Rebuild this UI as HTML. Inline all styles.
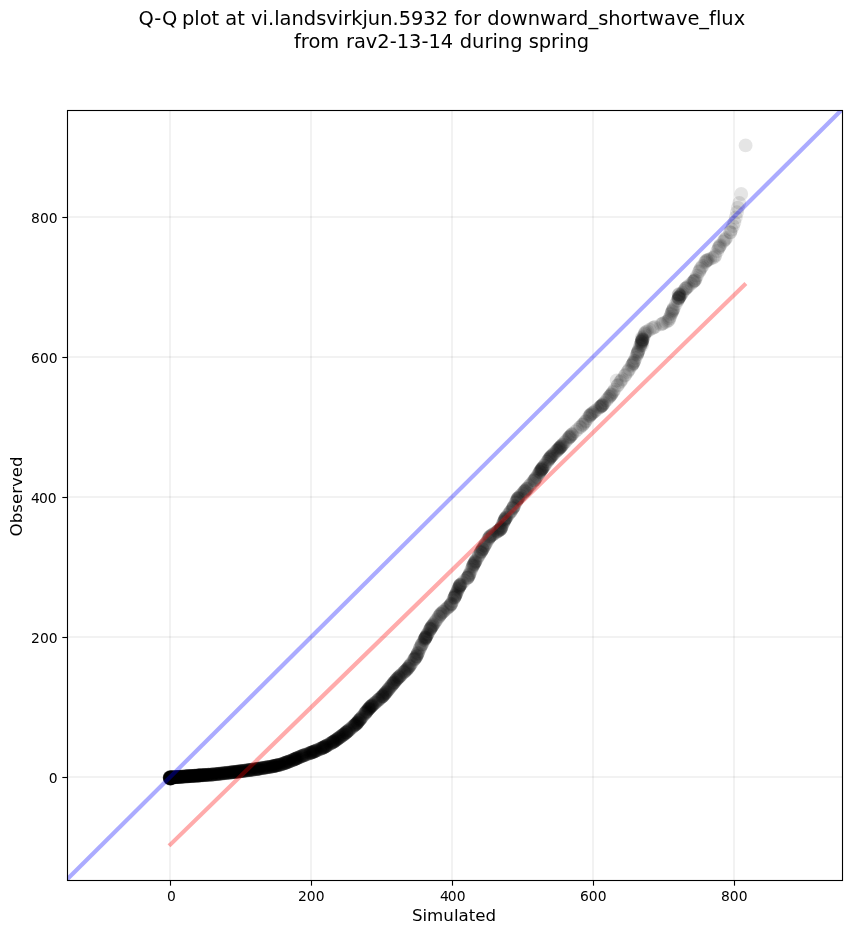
<!DOCTYPE html>
<html lang="en"><head><meta charset="utf-8"><title>Q-Q plot</title>
<style>html,body{margin:0;padding:0;background:#fff;overflow:hidden;}svg{display:block;}text{font-family:"DejaVu Sans","Liberation Sans",sans-serif;fill:#000;font-variant-ligatures:none;}</style>
</head><body>
<svg width="851" height="934" viewBox="0 0 851 934">
<rect x="0" y="0" width="851" height="934" fill="#fff"/>
<defs><clipPath id="ax"><rect x="67.5" y="110.5" width="775.0" height="770.0"/></clipPath></defs>
<g stroke="#000" stroke-opacity="0.05" stroke-width="2.08" fill="none">
<line x1="170.0" y1="110.5" x2="170.0" y2="880.5"/>
<line x1="311.0" y1="110.5" x2="311.0" y2="880.5"/>
<line x1="452.0" y1="110.5" x2="452.0" y2="880.5"/>
<line x1="593.0" y1="110.5" x2="593.0" y2="880.5"/>
<line x1="734.0" y1="110.5" x2="734.0" y2="880.5"/>
<line x1="67.5" y1="777.0" x2="842.5" y2="777.0"/>
<line x1="67.5" y1="637.0" x2="842.5" y2="637.0"/>
<line x1="67.5" y1="497.0" x2="842.5" y2="497.0"/>
<line x1="67.5" y1="357.0" x2="842.5" y2="357.0"/>
<line x1="67.5" y1="217.0" x2="842.5" y2="217.0"/>
</g>
<g clip-path="url(#ax)" fill="#000" fill-opacity="0.1">
<circle cx="170.2" cy="777.5" r="6.94"/>
<circle cx="170.1" cy="778.6" r="6.94"/>
<circle cx="170.3" cy="778.4" r="6.94"/>
<circle cx="170.0" cy="777.9" r="6.94"/>
<circle cx="170.5" cy="778.4" r="6.94"/>
<circle cx="169.7" cy="777.9" r="6.94"/>
<circle cx="170.9" cy="778.7" r="6.94"/>
<circle cx="169.7" cy="777.5" r="6.94"/>
<circle cx="171.0" cy="777.5" r="6.94"/>
<circle cx="171.1" cy="777.3" r="6.94"/>
<circle cx="170.6" cy="777.5" r="6.94"/>
<circle cx="170.3" cy="778.3" r="6.94"/>
<circle cx="170.4" cy="778.4" r="6.94"/>
<circle cx="169.7" cy="777.8" r="6.94"/>
<circle cx="171.1" cy="778.1" r="6.94"/>
<circle cx="171.2" cy="778.0" r="6.94"/>
<circle cx="170.3" cy="777.7" r="6.94"/>
<circle cx="170.2" cy="778.3" r="6.94"/>
<circle cx="169.7" cy="777.6" r="6.94"/>
<circle cx="170.2" cy="777.8" r="6.94"/>
<circle cx="170.9" cy="777.5" r="6.94"/>
<circle cx="169.9" cy="777.3" r="6.94"/>
<circle cx="170.7" cy="777.6" r="6.94"/>
<circle cx="170.7" cy="778.4" r="6.94"/>
<circle cx="171.1" cy="778.4" r="6.94"/>
<circle cx="169.9" cy="777.3" r="6.94"/>
<circle cx="169.9" cy="777.5" r="6.94"/>
<circle cx="171.2" cy="778.6" r="6.94"/>
<circle cx="169.8" cy="778.5" r="6.94"/>
<circle cx="171.0" cy="778.5" r="6.94"/>
<circle cx="170.3" cy="778.4" r="6.94"/>
<circle cx="169.8" cy="778.1" r="6.94"/>
<circle cx="170.8" cy="778.3" r="6.94"/>
<circle cx="170.8" cy="778.2" r="6.94"/>
<circle cx="169.7" cy="777.3" r="6.94"/>
<circle cx="170.3" cy="777.4" r="6.94"/>
<circle cx="169.9" cy="778.6" r="6.94"/>
<circle cx="169.9" cy="777.2" r="6.94"/>
<circle cx="169.8" cy="778.6" r="6.94"/>
<circle cx="170.0" cy="778.1" r="6.94"/>
<circle cx="170.7" cy="777.5" r="6.94"/>
<circle cx="170.8" cy="777.5" r="6.94"/>
<circle cx="171.0" cy="777.5" r="6.94"/>
<circle cx="171.2" cy="777.5" r="6.94"/>
<circle cx="171.3" cy="777.4" r="6.94"/>
<circle cx="171.5" cy="777.4" r="6.94"/>
<circle cx="171.6" cy="777.4" r="6.94"/>
<circle cx="171.7" cy="777.4" r="6.94"/>
<circle cx="171.9" cy="777.4" r="6.94"/>
<circle cx="172.0" cy="777.4" r="6.94"/>
<circle cx="172.2" cy="777.4" r="6.94"/>
<circle cx="172.3" cy="777.4" r="6.94"/>
<circle cx="172.4" cy="777.4" r="6.94"/>
<circle cx="172.6" cy="777.4" r="6.94"/>
<circle cx="172.9" cy="777.3" r="6.94"/>
<circle cx="173.0" cy="777.3" r="6.94"/>
<circle cx="173.1" cy="777.3" r="6.94"/>
<circle cx="173.3" cy="777.3" r="6.94"/>
<circle cx="173.7" cy="777.3" r="6.94"/>
<circle cx="173.9" cy="777.3" r="6.94"/>
<circle cx="174.1" cy="777.2" r="6.94"/>
<circle cx="174.5" cy="777.2" r="6.94"/>
<circle cx="174.7" cy="777.2" r="6.94"/>
<circle cx="175.0" cy="777.2" r="6.94"/>
<circle cx="175.1" cy="777.2" r="6.94"/>
<circle cx="175.2" cy="777.2" r="6.94"/>
<circle cx="175.4" cy="777.2" r="6.94"/>
<circle cx="175.5" cy="777.1" r="6.94"/>
<circle cx="175.8" cy="777.1" r="6.94"/>
<circle cx="175.9" cy="777.1" r="6.94"/>
<circle cx="176.1" cy="777.1" r="6.94"/>
<circle cx="176.3" cy="777.1" r="6.94"/>
<circle cx="176.5" cy="777.1" r="6.94"/>
<circle cx="176.7" cy="777.1" r="6.94"/>
<circle cx="176.8" cy="777.1" r="6.94"/>
<circle cx="176.9" cy="777.0" r="6.94"/>
<circle cx="177.1" cy="777.0" r="6.94"/>
<circle cx="177.3" cy="777.0" r="6.94"/>
<circle cx="177.5" cy="777.0" r="6.94"/>
<circle cx="177.6" cy="777.0" r="6.94"/>
<circle cx="177.8" cy="777.0" r="6.94"/>
<circle cx="178.0" cy="777.0" r="6.94"/>
<circle cx="178.2" cy="777.0" r="6.94"/>
<circle cx="178.4" cy="776.9" r="6.94"/>
<circle cx="178.7" cy="776.9" r="6.94"/>
<circle cx="178.8" cy="776.9" r="6.94"/>
<circle cx="179.0" cy="776.9" r="6.94"/>
<circle cx="179.2" cy="776.9" r="6.94"/>
<circle cx="179.5" cy="776.9" r="6.94"/>
<circle cx="179.8" cy="776.8" r="6.94"/>
<circle cx="179.9" cy="776.8" r="6.94"/>
<circle cx="180.5" cy="776.8" r="6.94"/>
<circle cx="180.6" cy="776.8" r="6.94"/>
<circle cx="180.8" cy="776.8" r="6.94"/>
<circle cx="181.0" cy="776.8" r="6.94"/>
<circle cx="181.2" cy="776.7" r="6.94"/>
<circle cx="181.4" cy="776.7" r="6.94"/>
<circle cx="181.5" cy="776.7" r="6.94"/>
<circle cx="181.7" cy="776.7" r="6.94"/>
<circle cx="182.0" cy="776.7" r="6.94"/>
<circle cx="182.2" cy="776.7" r="6.94"/>
<circle cx="182.5" cy="776.6" r="6.94"/>
<circle cx="182.7" cy="776.6" r="6.94"/>
<circle cx="183.0" cy="776.6" r="6.94"/>
<circle cx="183.2" cy="776.6" r="6.94"/>
<circle cx="183.4" cy="776.6" r="6.94"/>
<circle cx="183.6" cy="776.6" r="6.94"/>
<circle cx="183.9" cy="776.6" r="6.94"/>
<circle cx="184.3" cy="776.5" r="6.94"/>
<circle cx="184.5" cy="776.5" r="6.94"/>
<circle cx="184.8" cy="776.5" r="6.94"/>
<circle cx="184.9" cy="776.5" r="6.94"/>
<circle cx="185.2" cy="776.5" r="6.94"/>
<circle cx="185.4" cy="776.4" r="6.94"/>
<circle cx="186.0" cy="776.4" r="6.94"/>
<circle cx="186.4" cy="776.4" r="6.94"/>
<circle cx="186.5" cy="776.4" r="6.94"/>
<circle cx="186.7" cy="776.4" r="6.94"/>
<circle cx="187.0" cy="776.3" r="6.94"/>
<circle cx="187.1" cy="776.3" r="6.94"/>
<circle cx="187.3" cy="776.3" r="6.94"/>
<circle cx="187.4" cy="776.3" r="6.94"/>
<circle cx="187.6" cy="776.3" r="6.94"/>
<circle cx="187.7" cy="776.3" r="6.94"/>
<circle cx="188.0" cy="776.3" r="6.94"/>
<circle cx="188.2" cy="776.3" r="6.94"/>
<circle cx="188.3" cy="776.2" r="6.94"/>
<circle cx="188.5" cy="776.2" r="6.94"/>
<circle cx="188.9" cy="776.2" r="6.94"/>
<circle cx="189.0" cy="776.2" r="6.94"/>
<circle cx="189.2" cy="776.2" r="6.94"/>
<circle cx="189.5" cy="776.2" r="6.94"/>
<circle cx="189.8" cy="776.1" r="6.94"/>
<circle cx="190.2" cy="776.1" r="6.94"/>
<circle cx="190.5" cy="776.1" r="6.94"/>
<circle cx="190.7" cy="776.1" r="6.94"/>
<circle cx="190.9" cy="776.1" r="6.94"/>
<circle cx="191.1" cy="776.0" r="6.94"/>
<circle cx="191.5" cy="776.0" r="6.94"/>
<circle cx="192.0" cy="776.0" r="6.94"/>
<circle cx="192.1" cy="776.0" r="6.94"/>
<circle cx="192.3" cy="776.0" r="6.94"/>
<circle cx="192.4" cy="775.9" r="6.94"/>
<circle cx="192.6" cy="775.9" r="6.94"/>
<circle cx="192.8" cy="775.9" r="6.94"/>
<circle cx="193.1" cy="775.9" r="6.94"/>
<circle cx="193.2" cy="775.9" r="6.94"/>
<circle cx="193.4" cy="775.9" r="6.94"/>
<circle cx="193.6" cy="775.9" r="6.94"/>
<circle cx="193.8" cy="775.8" r="6.94"/>
<circle cx="194.0" cy="775.8" r="6.94"/>
<circle cx="194.5" cy="775.8" r="6.94"/>
<circle cx="194.8" cy="775.8" r="6.94"/>
<circle cx="195.0" cy="775.8" r="6.94"/>
<circle cx="195.3" cy="775.7" r="6.94"/>
<circle cx="195.5" cy="775.7" r="6.94"/>
<circle cx="195.7" cy="775.7" r="6.94"/>
<circle cx="196.1" cy="775.7" r="6.94"/>
<circle cx="196.4" cy="775.7" r="6.94"/>
<circle cx="196.8" cy="775.6" r="6.94"/>
<circle cx="197.1" cy="775.6" r="6.94"/>
<circle cx="197.3" cy="775.6" r="6.94"/>
<circle cx="197.5" cy="775.6" r="6.94"/>
<circle cx="197.7" cy="775.6" r="6.94"/>
<circle cx="197.9" cy="775.5" r="6.94"/>
<circle cx="198.1" cy="775.5" r="6.94"/>
<circle cx="198.2" cy="775.5" r="6.94"/>
<circle cx="198.4" cy="775.5" r="6.94"/>
<circle cx="198.6" cy="775.5" r="6.94"/>
<circle cx="198.8" cy="775.5" r="6.94"/>
<circle cx="198.9" cy="775.5" r="6.94"/>
<circle cx="199.1" cy="775.5" r="6.94"/>
<circle cx="199.2" cy="775.5" r="6.94"/>
<circle cx="199.4" cy="775.4" r="6.94"/>
<circle cx="199.6" cy="775.4" r="6.94"/>
<circle cx="199.7" cy="775.4" r="6.94"/>
<circle cx="200.1" cy="775.4" r="6.94"/>
<circle cx="200.4" cy="775.4" r="6.94"/>
<circle cx="200.5" cy="775.4" r="6.94"/>
<circle cx="200.7" cy="775.3" r="6.94"/>
<circle cx="200.9" cy="775.3" r="6.94"/>
<circle cx="201.1" cy="775.3" r="6.94"/>
<circle cx="201.3" cy="775.3" r="6.94"/>
<circle cx="201.7" cy="775.3" r="6.94"/>
<circle cx="202.3" cy="775.2" r="6.94"/>
<circle cx="202.6" cy="775.2" r="6.94"/>
<circle cx="202.8" cy="775.2" r="6.94"/>
<circle cx="203.0" cy="775.2" r="6.94"/>
<circle cx="203.1" cy="775.2" r="6.94"/>
<circle cx="203.3" cy="775.2" r="6.94"/>
<circle cx="203.5" cy="775.1" r="6.94"/>
<circle cx="203.9" cy="775.1" r="6.94"/>
<circle cx="204.0" cy="775.1" r="6.94"/>
<circle cx="204.2" cy="775.1" r="6.94"/>
<circle cx="204.7" cy="775.1" r="6.94"/>
<circle cx="204.9" cy="775.0" r="6.94"/>
<circle cx="205.1" cy="775.0" r="6.94"/>
<circle cx="205.4" cy="775.0" r="6.94"/>
<circle cx="205.5" cy="775.0" r="6.94"/>
<circle cx="205.7" cy="775.0" r="6.94"/>
<circle cx="206.4" cy="774.9" r="6.94"/>
<circle cx="206.8" cy="774.9" r="6.94"/>
<circle cx="207.1" cy="774.9" r="6.94"/>
<circle cx="207.2" cy="774.9" r="6.94"/>
<circle cx="207.5" cy="774.9" r="6.94"/>
<circle cx="207.6" cy="774.8" r="6.94"/>
<circle cx="208.0" cy="774.8" r="6.94"/>
<circle cx="208.2" cy="774.8" r="6.94"/>
<circle cx="208.6" cy="774.8" r="6.94"/>
<circle cx="208.8" cy="774.8" r="6.94"/>
<circle cx="208.9" cy="774.8" r="6.94"/>
<circle cx="209.3" cy="774.7" r="6.94"/>
<circle cx="210.0" cy="774.7" r="6.94"/>
<circle cx="210.4" cy="774.6" r="6.94"/>
<circle cx="210.7" cy="774.6" r="6.94"/>
<circle cx="211.1" cy="774.6" r="6.94"/>
<circle cx="211.4" cy="774.6" r="6.94"/>
<circle cx="211.6" cy="774.6" r="6.94"/>
<circle cx="211.9" cy="774.5" r="6.94"/>
<circle cx="212.1" cy="774.5" r="6.94"/>
<circle cx="212.2" cy="774.5" r="6.94"/>
<circle cx="212.4" cy="774.5" r="6.94"/>
<circle cx="212.6" cy="774.5" r="6.94"/>
<circle cx="212.8" cy="774.5" r="6.94"/>
<circle cx="213.1" cy="774.5" r="6.94"/>
<circle cx="213.6" cy="774.4" r="6.94"/>
<circle cx="213.9" cy="774.4" r="6.94"/>
<circle cx="214.4" cy="774.3" r="6.94"/>
<circle cx="215.1" cy="774.2" r="6.94"/>
<circle cx="215.7" cy="774.2" r="6.94"/>
<circle cx="215.9" cy="774.2" r="6.94"/>
<circle cx="216.1" cy="774.1" r="6.94"/>
<circle cx="216.3" cy="774.1" r="6.94"/>
<circle cx="216.5" cy="774.1" r="6.94"/>
<circle cx="216.7" cy="774.1" r="6.94"/>
<circle cx="217.0" cy="774.0" r="6.94"/>
<circle cx="217.4" cy="774.0" r="6.94"/>
<circle cx="217.8" cy="773.9" r="6.94"/>
<circle cx="218.0" cy="773.9" r="6.94"/>
<circle cx="218.3" cy="773.9" r="6.94"/>
<circle cx="218.7" cy="773.8" r="6.94"/>
<circle cx="218.9" cy="773.8" r="6.94"/>
<circle cx="219.2" cy="773.8" r="6.94"/>
<circle cx="219.7" cy="773.7" r="6.94"/>
<circle cx="220.0" cy="773.7" r="6.94"/>
<circle cx="220.4" cy="773.6" r="6.94"/>
<circle cx="220.6" cy="773.6" r="6.94"/>
<circle cx="220.8" cy="773.6" r="6.94"/>
<circle cx="221.2" cy="773.6" r="6.94"/>
<circle cx="221.4" cy="773.5" r="6.94"/>
<circle cx="221.8" cy="773.5" r="6.94"/>
<circle cx="222.4" cy="773.4" r="6.94"/>
<circle cx="222.7" cy="773.4" r="6.94"/>
<circle cx="222.9" cy="773.4" r="6.94"/>
<circle cx="223.5" cy="773.3" r="6.94"/>
<circle cx="223.8" cy="773.2" r="6.94"/>
<circle cx="224.0" cy="773.2" r="6.94"/>
<circle cx="224.2" cy="773.2" r="6.94"/>
<circle cx="224.4" cy="773.2" r="6.94"/>
<circle cx="224.9" cy="773.1" r="6.94"/>
<circle cx="225.3" cy="773.1" r="6.94"/>
<circle cx="225.5" cy="773.1" r="6.94"/>
<circle cx="225.8" cy="773.0" r="6.94"/>
<circle cx="226.5" cy="772.9" r="6.94"/>
<circle cx="226.9" cy="772.9" r="6.94"/>
<circle cx="227.1" cy="772.9" r="6.94"/>
<circle cx="227.4" cy="772.8" r="6.94"/>
<circle cx="227.6" cy="772.8" r="6.94"/>
<circle cx="227.7" cy="772.8" r="6.94"/>
<circle cx="228.4" cy="772.7" r="6.94"/>
<circle cx="228.7" cy="772.7" r="6.94"/>
<circle cx="229.0" cy="772.7" r="6.94"/>
<circle cx="229.6" cy="772.6" r="6.94"/>
<circle cx="229.8" cy="772.6" r="6.94"/>
<circle cx="230.3" cy="772.5" r="6.94"/>
<circle cx="230.7" cy="772.5" r="6.94"/>
<circle cx="230.9" cy="772.4" r="6.94"/>
<circle cx="231.1" cy="772.4" r="6.94"/>
<circle cx="231.4" cy="772.4" r="6.94"/>
<circle cx="231.6" cy="772.4" r="6.94"/>
<circle cx="231.9" cy="772.3" r="6.94"/>
<circle cx="232.1" cy="772.3" r="6.94"/>
<circle cx="232.4" cy="772.3" r="6.94"/>
<circle cx="232.6" cy="772.2" r="6.94"/>
<circle cx="233.1" cy="772.2" r="6.94"/>
<circle cx="233.3" cy="772.2" r="6.94"/>
<circle cx="233.5" cy="772.1" r="6.94"/>
<circle cx="233.9" cy="772.1" r="6.94"/>
<circle cx="234.4" cy="772.0" r="6.94"/>
<circle cx="234.6" cy="772.0" r="6.94"/>
<circle cx="235.2" cy="771.9" r="6.94"/>
<circle cx="235.5" cy="771.9" r="6.94"/>
<circle cx="235.8" cy="771.9" r="6.94"/>
<circle cx="236.1" cy="771.8" r="6.94"/>
<circle cx="236.2" cy="771.8" r="6.94"/>
<circle cx="236.5" cy="771.8" r="6.94"/>
<circle cx="236.7" cy="771.8" r="6.94"/>
<circle cx="236.9" cy="771.7" r="6.94"/>
<circle cx="237.3" cy="771.7" r="6.94"/>
<circle cx="237.5" cy="771.7" r="6.94"/>
<circle cx="237.8" cy="771.6" r="6.94"/>
<circle cx="238.2" cy="771.6" r="6.94"/>
<circle cx="238.5" cy="771.5" r="6.94"/>
<circle cx="238.7" cy="771.5" r="6.94"/>
<circle cx="239.0" cy="771.5" r="6.94"/>
<circle cx="239.3" cy="771.4" r="6.94"/>
<circle cx="239.8" cy="771.4" r="6.94"/>
<circle cx="240.0" cy="771.3" r="6.94"/>
<circle cx="240.2" cy="771.3" r="6.94"/>
<circle cx="240.4" cy="771.3" r="6.94"/>
<circle cx="240.7" cy="771.2" r="6.94"/>
<circle cx="241.1" cy="771.2" r="6.94"/>
<circle cx="241.4" cy="771.1" r="6.94"/>
<circle cx="241.7" cy="771.1" r="6.94"/>
<circle cx="242.1" cy="771.0" r="6.94"/>
<circle cx="242.6" cy="771.0" r="6.94"/>
<circle cx="242.9" cy="770.9" r="6.94"/>
<circle cx="243.2" cy="770.9" r="6.94"/>
<circle cx="243.5" cy="770.9" r="6.94"/>
<circle cx="243.8" cy="770.8" r="6.94"/>
<circle cx="244.2" cy="770.8" r="6.94"/>
<circle cx="244.4" cy="770.7" r="6.94"/>
<circle cx="244.7" cy="770.7" r="6.94"/>
<circle cx="245.0" cy="770.6" r="6.94"/>
<circle cx="245.6" cy="770.6" r="6.94"/>
<circle cx="246.0" cy="770.5" r="6.94"/>
<circle cx="246.4" cy="770.5" r="6.94"/>
<circle cx="247.0" cy="770.4" r="6.94"/>
<circle cx="247.3" cy="770.3" r="6.94"/>
<circle cx="247.6" cy="770.3" r="6.94"/>
<circle cx="248.2" cy="770.2" r="6.94"/>
<circle cx="248.6" cy="770.2" r="6.94"/>
<circle cx="248.8" cy="770.1" r="6.94"/>
<circle cx="249.0" cy="770.1" r="6.94"/>
<circle cx="249.3" cy="770.1" r="6.94"/>
<circle cx="249.5" cy="770.0" r="6.94"/>
<circle cx="249.7" cy="770.0" r="6.94"/>
<circle cx="249.9" cy="770.0" r="6.94"/>
<circle cx="250.3" cy="769.9" r="6.94"/>
<circle cx="250.7" cy="769.9" r="6.94"/>
<circle cx="251.2" cy="769.8" r="6.94"/>
<circle cx="251.4" cy="769.8" r="6.94"/>
<circle cx="251.8" cy="769.7" r="6.94"/>
<circle cx="252.1" cy="769.7" r="6.94"/>
<circle cx="252.3" cy="769.7" r="6.94"/>
<circle cx="252.8" cy="769.6" r="6.94"/>
<circle cx="253.5" cy="769.5" r="6.94"/>
<circle cx="253.7" cy="769.5" r="6.94"/>
<circle cx="254.4" cy="769.4" r="6.94"/>
<circle cx="254.6" cy="769.3" r="6.94"/>
<circle cx="254.9" cy="769.3" r="6.94"/>
<circle cx="255.8" cy="769.2" r="6.94"/>
<circle cx="256.2" cy="769.1" r="6.94"/>
<circle cx="256.4" cy="769.1" r="6.94"/>
<circle cx="256.7" cy="769.0" r="6.94"/>
<circle cx="257.0" cy="769.0" r="6.94"/>
<circle cx="257.2" cy="768.9" r="6.94"/>
<circle cx="257.4" cy="768.9" r="6.94"/>
<circle cx="257.7" cy="768.8" r="6.94"/>
<circle cx="258.1" cy="768.8" r="6.94"/>
<circle cx="258.2" cy="768.8" r="6.94"/>
<circle cx="258.6" cy="768.7" r="6.94"/>
<circle cx="258.8" cy="768.7" r="6.94"/>
<circle cx="259.0" cy="768.6" r="6.94"/>
<circle cx="259.3" cy="768.6" r="6.94"/>
<circle cx="259.6" cy="768.5" r="6.94"/>
<circle cx="259.9" cy="768.5" r="6.94"/>
<circle cx="260.1" cy="768.5" r="6.94"/>
<circle cx="261.0" cy="768.3" r="6.94"/>
<circle cx="261.4" cy="768.2" r="6.94"/>
<circle cx="262.1" cy="768.1" r="6.94"/>
<circle cx="262.3" cy="768.1" r="6.94"/>
<circle cx="262.6" cy="768.0" r="6.94"/>
<circle cx="262.8" cy="768.0" r="6.94"/>
<circle cx="263.2" cy="767.9" r="6.94"/>
<circle cx="263.5" cy="767.9" r="6.94"/>
<circle cx="263.7" cy="767.9" r="6.94"/>
<circle cx="264.0" cy="767.8" r="6.94"/>
<circle cx="264.6" cy="767.7" r="6.94"/>
<circle cx="265.0" cy="767.7" r="6.94"/>
<circle cx="265.3" cy="767.6" r="6.94"/>
<circle cx="265.5" cy="767.6" r="6.94"/>
<circle cx="266.0" cy="767.5" r="6.94"/>
<circle cx="266.4" cy="767.4" r="6.94"/>
<circle cx="266.8" cy="767.4" r="6.94"/>
<circle cx="267.0" cy="767.3" r="6.94"/>
<circle cx="267.2" cy="767.3" r="6.94"/>
<circle cx="267.6" cy="767.2" r="6.94"/>
<circle cx="267.9" cy="767.2" r="6.94"/>
<circle cx="268.1" cy="767.1" r="6.94"/>
<circle cx="268.7" cy="767.0" r="6.94"/>
<circle cx="269.1" cy="767.0" r="6.94"/>
<circle cx="269.6" cy="766.9" r="6.94"/>
<circle cx="269.8" cy="766.9" r="6.94"/>
<circle cx="270.3" cy="766.8" r="6.94"/>
<circle cx="270.5" cy="766.7" r="6.94"/>
<circle cx="271.0" cy="766.7" r="6.94"/>
<circle cx="271.3" cy="766.6" r="6.94"/>
<circle cx="271.6" cy="766.6" r="6.94"/>
<circle cx="271.9" cy="766.5" r="6.94"/>
<circle cx="272.6" cy="766.4" r="6.94"/>
<circle cx="272.8" cy="766.3" r="6.94"/>
<circle cx="273.0" cy="766.3" r="6.94"/>
<circle cx="273.3" cy="766.2" r="6.94"/>
<circle cx="273.6" cy="766.1" r="6.94"/>
<circle cx="273.8" cy="766.1" r="6.94"/>
<circle cx="274.0" cy="766.0" r="6.94"/>
<circle cx="274.2" cy="766.0" r="6.94"/>
<circle cx="274.5" cy="765.9" r="6.94"/>
<circle cx="274.8" cy="765.9" r="6.94"/>
<circle cx="275.0" cy="765.8" r="6.94"/>
<circle cx="275.4" cy="765.7" r="6.94"/>
<circle cx="275.7" cy="765.7" r="6.94"/>
<circle cx="276.0" cy="765.6" r="6.94"/>
<circle cx="276.2" cy="765.5" r="6.94"/>
<circle cx="276.5" cy="765.5" r="6.94"/>
<circle cx="276.7" cy="765.4" r="6.94"/>
<circle cx="277.0" cy="765.4" r="6.94"/>
<circle cx="277.2" cy="765.3" r="6.94"/>
<circle cx="277.6" cy="765.2" r="6.94"/>
<circle cx="277.9" cy="765.1" r="6.94"/>
<circle cx="278.2" cy="765.1" r="6.94"/>
<circle cx="278.5" cy="765.0" r="6.94"/>
<circle cx="279.2" cy="764.9" r="6.94"/>
<circle cx="279.4" cy="764.8" r="6.94"/>
<circle cx="279.9" cy="764.7" r="6.94"/>
<circle cx="280.1" cy="764.6" r="6.94"/>
<circle cx="280.5" cy="764.6" r="6.94"/>
<circle cx="281.0" cy="764.5" r="6.94"/>
<circle cx="281.3" cy="764.4" r="6.94"/>
<circle cx="281.6" cy="764.3" r="6.94"/>
<circle cx="282.0" cy="764.1" r="6.94"/>
<circle cx="282.8" cy="763.8" r="6.94"/>
<circle cx="283.1" cy="763.7" r="6.94"/>
<circle cx="283.6" cy="763.5" r="6.94"/>
<circle cx="284.0" cy="763.4" r="6.94"/>
<circle cx="284.4" cy="763.2" r="6.94"/>
<circle cx="284.7" cy="763.1" r="6.94"/>
<circle cx="284.9" cy="763.0" r="6.94"/>
<circle cx="285.1" cy="763.0" r="6.94"/>
<circle cx="285.4" cy="762.9" r="6.94"/>
<circle cx="285.6" cy="762.8" r="6.94"/>
<circle cx="286.0" cy="762.6" r="6.94"/>
<circle cx="286.3" cy="762.5" r="6.94"/>
<circle cx="286.5" cy="762.5" r="6.94"/>
<circle cx="286.7" cy="762.4" r="6.94"/>
<circle cx="287.2" cy="762.2" r="6.94"/>
<circle cx="287.8" cy="762.0" r="6.94"/>
<circle cx="288.1" cy="761.8" r="6.94"/>
<circle cx="288.4" cy="761.7" r="6.94"/>
<circle cx="288.7" cy="761.7" r="6.94"/>
<circle cx="288.9" cy="761.6" r="6.94"/>
<circle cx="289.2" cy="761.4" r="6.94"/>
<circle cx="289.5" cy="761.4" r="6.94"/>
<circle cx="289.8" cy="761.3" r="6.94"/>
<circle cx="290.0" cy="761.2" r="6.94"/>
<circle cx="290.8" cy="760.9" r="6.94"/>
<circle cx="291.6" cy="760.6" r="6.94"/>
<circle cx="291.9" cy="760.4" r="6.94"/>
<circle cx="292.2" cy="760.3" r="6.94"/>
<circle cx="293.0" cy="760.0" r="6.94"/>
<circle cx="293.2" cy="759.9" r="6.94"/>
<circle cx="293.5" cy="759.7" r="6.94"/>
<circle cx="293.7" cy="759.6" r="6.94"/>
<circle cx="294.0" cy="759.5" r="6.94"/>
<circle cx="294.3" cy="759.4" r="6.94"/>
<circle cx="294.6" cy="759.2" r="6.94"/>
<circle cx="294.8" cy="759.1" r="6.94"/>
<circle cx="295.2" cy="759.0" r="6.94"/>
<circle cx="295.4" cy="758.9" r="6.94"/>
<circle cx="295.6" cy="758.8" r="6.94"/>
<circle cx="295.8" cy="758.7" r="6.94"/>
<circle cx="296.1" cy="758.6" r="6.94"/>
<circle cx="296.4" cy="758.5" r="6.94"/>
<circle cx="296.5" cy="758.4" r="6.94"/>
<circle cx="296.8" cy="758.3" r="6.94"/>
<circle cx="297.1" cy="758.2" r="6.94"/>
<circle cx="297.4" cy="758.0" r="6.94"/>
<circle cx="297.8" cy="757.9" r="6.94"/>
<circle cx="298.2" cy="757.7" r="6.94"/>
<circle cx="298.6" cy="757.5" r="6.94"/>
<circle cx="299.0" cy="757.3" r="6.94"/>
<circle cx="299.6" cy="757.1" r="6.94"/>
<circle cx="299.9" cy="756.9" r="6.94"/>
<circle cx="300.2" cy="756.8" r="6.94"/>
<circle cx="301.1" cy="756.4" r="6.94"/>
<circle cx="301.3" cy="756.3" r="6.94"/>
<circle cx="301.7" cy="756.1" r="6.94"/>
<circle cx="302.1" cy="756.0" r="6.94"/>
<circle cx="302.3" cy="755.9" r="6.94"/>
<circle cx="302.7" cy="755.7" r="6.94"/>
<circle cx="303.2" cy="755.6" r="6.94"/>
<circle cx="303.5" cy="755.5" r="6.94"/>
<circle cx="303.9" cy="755.3" r="6.94"/>
<circle cx="304.3" cy="755.2" r="6.94"/>
<circle cx="304.5" cy="755.1" r="6.94"/>
<circle cx="304.9" cy="755.0" r="6.94"/>
<circle cx="305.2" cy="754.8" r="6.94"/>
<circle cx="305.8" cy="754.6" r="6.94"/>
<circle cx="306.4" cy="754.4" r="6.94"/>
<circle cx="307.2" cy="754.1" r="6.94"/>
<circle cx="307.8" cy="753.9" r="6.94"/>
<circle cx="308.7" cy="753.6" r="6.94"/>
<circle cx="309.3" cy="753.3" r="6.94"/>
<circle cx="309.8" cy="753.2" r="6.94"/>
<circle cx="310.1" cy="753.1" r="6.94"/>
<circle cx="310.3" cy="753.0" r="6.94"/>
<circle cx="310.6" cy="752.9" r="6.94"/>
<circle cx="310.9" cy="752.8" r="6.94"/>
<circle cx="311.0" cy="752.7" r="6.94"/>
<circle cx="311.5" cy="752.5" r="6.94"/>
<circle cx="311.8" cy="752.4" r="6.94"/>
<circle cx="312.1" cy="752.3" r="6.94"/>
<circle cx="312.5" cy="752.2" r="6.94"/>
<circle cx="312.8" cy="752.1" r="6.94"/>
<circle cx="313.0" cy="752.0" r="6.94"/>
<circle cx="313.2" cy="751.9" r="6.94"/>
<circle cx="313.6" cy="751.8" r="6.94"/>
<circle cx="313.9" cy="751.6" r="6.94"/>
<circle cx="314.2" cy="751.5" r="6.94"/>
<circle cx="314.5" cy="751.4" r="6.94"/>
<circle cx="314.9" cy="751.2" r="6.94"/>
<circle cx="315.0" cy="751.1" r="6.94"/>
<circle cx="315.5" cy="750.9" r="6.94"/>
<circle cx="315.8" cy="750.8" r="6.94"/>
<circle cx="316.1" cy="750.7" r="6.94"/>
<circle cx="316.4" cy="750.5" r="6.94"/>
<circle cx="317.0" cy="750.3" r="6.94"/>
<circle cx="317.4" cy="750.1" r="6.94"/>
<circle cx="318.1" cy="749.8" r="6.94"/>
<circle cx="319.5" cy="749.2" r="6.94"/>
<circle cx="320.0" cy="749.0" r="6.94"/>
<circle cx="320.4" cy="748.8" r="6.94"/>
<circle cx="320.8" cy="748.7" r="6.94"/>
<circle cx="321.2" cy="748.5" r="6.94"/>
<circle cx="321.7" cy="748.3" r="6.94"/>
<circle cx="322.1" cy="748.1" r="6.94"/>
<circle cx="322.4" cy="748.0" r="6.94"/>
<circle cx="322.6" cy="747.9" r="6.94"/>
<circle cx="322.9" cy="747.8" r="6.94"/>
<circle cx="323.1" cy="747.7" r="6.94"/>
<circle cx="323.5" cy="747.5" r="6.94"/>
<circle cx="323.7" cy="747.4" r="6.94"/>
<circle cx="324.0" cy="747.2" r="6.94"/>
<circle cx="324.2" cy="747.1" r="6.94"/>
<circle cx="324.4" cy="747.0" r="6.94"/>
<circle cx="324.6" cy="746.9" r="6.94"/>
<circle cx="325.0" cy="746.6" r="6.94"/>
<circle cx="325.3" cy="746.5" r="6.94"/>
<circle cx="325.6" cy="746.3" r="6.94"/>
<circle cx="325.9" cy="746.1" r="6.94"/>
<circle cx="326.1" cy="746.0" r="6.94"/>
<circle cx="326.4" cy="745.8" r="6.94"/>
<circle cx="326.8" cy="745.6" r="6.94"/>
<circle cx="327.1" cy="745.5" r="6.94"/>
<circle cx="327.7" cy="745.1" r="6.94"/>
<circle cx="328.1" cy="744.9" r="6.94"/>
<circle cx="329.3" cy="744.2" r="6.94"/>
<circle cx="330.2" cy="743.7" r="6.94"/>
<circle cx="330.5" cy="743.5" r="6.94"/>
<circle cx="330.8" cy="743.3" r="6.94"/>
<circle cx="331.3" cy="743.0" r="6.94"/>
<circle cx="332.1" cy="742.6" r="6.94"/>
<circle cx="332.3" cy="742.5" r="6.94"/>
<circle cx="332.5" cy="742.3" r="6.94"/>
<circle cx="332.7" cy="742.2" r="6.94"/>
<circle cx="333.3" cy="741.9" r="6.94"/>
<circle cx="333.5" cy="741.8" r="6.94"/>
<circle cx="333.7" cy="741.7" r="6.94"/>
<circle cx="333.9" cy="741.6" r="6.94"/>
<circle cx="334.1" cy="741.4" r="6.94"/>
<circle cx="334.6" cy="741.0" r="6.94"/>
<circle cx="334.8" cy="740.9" r="6.94"/>
<circle cx="335.2" cy="740.7" r="6.94"/>
<circle cx="335.4" cy="740.5" r="6.94"/>
<circle cx="335.9" cy="740.1" r="6.94"/>
<circle cx="336.2" cy="739.9" r="6.94"/>
<circle cx="336.4" cy="739.7" r="6.94"/>
<circle cx="337.0" cy="739.3" r="6.94"/>
<circle cx="337.3" cy="739.1" r="6.94"/>
<circle cx="337.6" cy="738.9" r="6.94"/>
<circle cx="337.9" cy="738.7" r="6.94"/>
<circle cx="338.3" cy="738.4" r="6.94"/>
<circle cx="338.7" cy="738.1" r="6.94"/>
<circle cx="339.1" cy="737.8" r="6.94"/>
<circle cx="339.4" cy="737.5" r="6.94"/>
<circle cx="339.8" cy="737.3" r="6.94"/>
<circle cx="340.3" cy="737.0" r="6.94"/>
<circle cx="340.9" cy="736.5" r="6.94"/>
<circle cx="341.2" cy="736.3" r="6.94"/>
<circle cx="341.7" cy="735.9" r="6.94"/>
<circle cx="342.2" cy="735.5" r="6.94"/>
<circle cx="342.4" cy="735.4" r="6.94"/>
<circle cx="343.0" cy="735.0" r="6.94"/>
<circle cx="343.3" cy="734.8" r="6.94"/>
<circle cx="343.8" cy="734.4" r="6.94"/>
<circle cx="344.0" cy="734.3" r="6.94"/>
<circle cx="344.2" cy="734.1" r="6.94"/>
<circle cx="344.4" cy="733.9" r="6.94"/>
<circle cx="345.4" cy="733.1" r="6.94"/>
<circle cx="345.7" cy="732.9" r="6.94"/>
<circle cx="345.9" cy="732.7" r="6.94"/>
<circle cx="346.1" cy="732.5" r="6.94"/>
<circle cx="346.3" cy="732.4" r="6.94"/>
<circle cx="346.5" cy="732.2" r="6.94"/>
<circle cx="346.7" cy="732.0" r="6.94"/>
<circle cx="347.1" cy="731.7" r="6.94"/>
<circle cx="347.4" cy="731.5" r="6.94"/>
<circle cx="348.1" cy="730.9" r="6.94"/>
<circle cx="348.3" cy="730.6" r="6.94"/>
<circle cx="348.6" cy="730.4" r="6.94"/>
<circle cx="349.0" cy="730.0" r="6.94"/>
<circle cx="349.4" cy="729.7" r="6.94"/>
<circle cx="349.8" cy="729.4" r="6.94"/>
<circle cx="350.9" cy="728.4" r="6.94"/>
<circle cx="351.8" cy="727.7" r="6.94"/>
<circle cx="352.4" cy="727.2" r="6.94"/>
<circle cx="352.9" cy="726.8" r="6.94"/>
<circle cx="353.5" cy="726.2" r="6.94"/>
<circle cx="354.2" cy="725.7" r="6.94"/>
<circle cx="354.5" cy="725.4" r="6.94"/>
<circle cx="354.9" cy="725.1" r="6.94"/>
<circle cx="355.0" cy="724.9" r="6.94"/>
<circle cx="355.4" cy="724.7" r="6.94"/>
<circle cx="355.7" cy="724.4" r="6.94"/>
<circle cx="356.0" cy="724.1" r="6.94"/>
<circle cx="356.3" cy="723.9" r="6.94"/>
<circle cx="356.5" cy="723.7" r="6.94"/>
<circle cx="356.6" cy="723.5" r="6.94"/>
<circle cx="357.1" cy="723.0" r="6.94"/>
<circle cx="357.2" cy="722.8" r="6.94"/>
<circle cx="357.4" cy="722.6" r="6.94"/>
<circle cx="357.6" cy="722.4" r="6.94"/>
<circle cx="357.8" cy="722.1" r="6.94"/>
<circle cx="358.1" cy="721.7" r="6.94"/>
<circle cx="358.7" cy="721.0" r="6.94"/>
<circle cx="358.9" cy="720.8" r="6.94"/>
<circle cx="359.2" cy="720.4" r="6.94"/>
<circle cx="359.4" cy="720.1" r="6.94"/>
<circle cx="359.7" cy="719.8" r="6.94"/>
<circle cx="360.0" cy="719.4" r="6.94"/>
<circle cx="360.2" cy="719.2" r="6.94"/>
<circle cx="360.5" cy="718.9" r="6.94"/>
<circle cx="360.7" cy="718.6" r="6.94"/>
<circle cx="361.4" cy="717.8" r="6.94"/>
<circle cx="361.8" cy="717.3" r="6.94"/>
<circle cx="362.1" cy="716.9" r="6.94"/>
<circle cx="362.9" cy="715.9" r="6.94"/>
<circle cx="364.5" cy="714.0" r="6.94"/>
<circle cx="365.0" cy="713.5" r="6.94"/>
<circle cx="365.2" cy="713.1" r="6.94"/>
<circle cx="365.5" cy="712.8" r="6.94"/>
<circle cx="365.8" cy="712.5" r="6.94"/>
<circle cx="366.1" cy="712.1" r="6.94"/>
<circle cx="366.3" cy="711.8" r="6.94"/>
<circle cx="366.6" cy="711.5" r="6.94"/>
<circle cx="366.8" cy="711.2" r="6.94"/>
<circle cx="367.2" cy="710.8" r="6.94"/>
<circle cx="367.7" cy="710.2" r="6.94"/>
<circle cx="368.1" cy="709.7" r="6.94"/>
<circle cx="368.3" cy="709.4" r="6.94"/>
<circle cx="368.5" cy="709.2" r="6.94"/>
<circle cx="368.8" cy="708.9" r="6.94"/>
<circle cx="369.0" cy="708.6" r="6.94"/>
<circle cx="369.2" cy="708.3" r="6.94"/>
<circle cx="369.4" cy="708.1" r="6.94"/>
<circle cx="369.6" cy="707.9" r="6.94"/>
<circle cx="370.1" cy="707.2" r="6.94"/>
<circle cx="370.3" cy="707.0" r="6.94"/>
<circle cx="370.5" cy="706.8" r="6.94"/>
<circle cx="370.9" cy="706.5" r="6.94"/>
<circle cx="371.4" cy="706.1" r="6.94"/>
<circle cx="371.6" cy="705.9" r="6.94"/>
<circle cx="371.8" cy="705.7" r="6.94"/>
<circle cx="372.1" cy="705.5" r="6.94"/>
<circle cx="372.4" cy="705.2" r="6.94"/>
<circle cx="372.7" cy="704.9" r="6.94"/>
<circle cx="373.4" cy="704.2" r="6.94"/>
<circle cx="374.1" cy="703.7" r="6.94"/>
<circle cx="374.9" cy="703.0" r="6.94"/>
<circle cx="375.2" cy="702.7" r="6.94"/>
<circle cx="375.6" cy="702.4" r="6.94"/>
<circle cx="376.3" cy="701.8" r="6.94"/>
<circle cx="377.4" cy="700.8" r="6.94"/>
<circle cx="377.9" cy="700.3" r="6.94"/>
<circle cx="378.5" cy="699.8" r="6.94"/>
<circle cx="378.8" cy="699.5" r="6.94"/>
<circle cx="379.3" cy="699.2" r="6.94"/>
<circle cx="380.1" cy="698.4" r="6.94"/>
<circle cx="380.7" cy="697.9" r="6.94"/>
<circle cx="381.3" cy="697.4" r="6.94"/>
<circle cx="382.0" cy="696.7" r="6.94"/>
<circle cx="382.3" cy="696.5" r="6.94"/>
<circle cx="382.5" cy="696.3" r="6.94"/>
<circle cx="382.7" cy="696.1" r="6.94"/>
<circle cx="383.0" cy="695.8" r="6.94"/>
<circle cx="383.4" cy="695.5" r="6.94"/>
<circle cx="383.9" cy="694.8" r="6.94"/>
<circle cx="384.2" cy="694.4" r="6.94"/>
<circle cx="384.6" cy="694.1" r="6.94"/>
<circle cx="384.9" cy="693.6" r="6.94"/>
<circle cx="385.2" cy="693.2" r="6.94"/>
<circle cx="385.6" cy="692.8" r="6.94"/>
<circle cx="385.8" cy="692.5" r="6.94"/>
<circle cx="386.3" cy="691.9" r="6.94"/>
<circle cx="386.6" cy="691.6" r="6.94"/>
<circle cx="387.4" cy="690.6" r="6.94"/>
<circle cx="387.9" cy="690.0" r="6.94"/>
<circle cx="388.3" cy="689.5" r="6.94"/>
<circle cx="388.7" cy="689.0" r="6.94"/>
<circle cx="389.2" cy="688.4" r="6.94"/>
<circle cx="389.9" cy="687.6" r="6.94"/>
<circle cx="390.6" cy="686.7" r="6.94"/>
<circle cx="391.0" cy="686.2" r="6.94"/>
<circle cx="391.5" cy="685.7" r="6.94"/>
<circle cx="392.0" cy="685.0" r="6.94"/>
<circle cx="392.6" cy="684.3" r="6.94"/>
<circle cx="393.0" cy="683.8" r="6.94"/>
<circle cx="393.3" cy="683.4" r="6.94"/>
<circle cx="393.8" cy="682.8" r="6.94"/>
<circle cx="394.0" cy="682.5" r="6.94"/>
<circle cx="394.3" cy="682.2" r="6.94"/>
<circle cx="394.7" cy="681.8" r="6.94"/>
<circle cx="395.5" cy="680.8" r="6.94"/>
<circle cx="395.8" cy="680.4" r="6.94"/>
<circle cx="396.4" cy="679.7" r="6.94"/>
<circle cx="396.7" cy="679.3" r="6.94"/>
<circle cx="396.9" cy="679.0" r="6.94"/>
<circle cx="397.2" cy="678.7" r="6.94"/>
<circle cx="398.0" cy="678.0" r="6.94"/>
<circle cx="398.5" cy="677.5" r="6.94"/>
<circle cx="398.8" cy="677.2" r="6.94"/>
<circle cx="399.1" cy="676.9" r="6.94"/>
<circle cx="399.5" cy="676.5" r="6.94"/>
<circle cx="400.1" cy="675.9" r="6.94"/>
<circle cx="400.6" cy="675.4" r="6.94"/>
<circle cx="401.1" cy="675.0" r="6.94"/>
<circle cx="401.9" cy="674.1" r="6.94"/>
<circle cx="403.5" cy="672.7" r="6.94"/>
<circle cx="404.0" cy="672.2" r="6.94"/>
<circle cx="404.4" cy="671.8" r="6.94"/>
<circle cx="404.9" cy="671.3" r="6.94"/>
<circle cx="405.4" cy="670.8" r="6.94"/>
<circle cx="405.9" cy="670.3" r="6.94"/>
<circle cx="406.3" cy="669.9" r="6.94"/>
<circle cx="406.9" cy="669.3" r="6.94"/>
<circle cx="407.5" cy="668.8" r="6.94"/>
<circle cx="407.8" cy="668.4" r="6.94"/>
<circle cx="408.0" cy="668.2" r="6.94"/>
<circle cx="408.7" cy="667.2" r="6.94"/>
<circle cx="409.0" cy="666.8" r="6.94"/>
<circle cx="409.5" cy="666.1" r="6.94"/>
<circle cx="409.8" cy="665.7" r="6.94"/>
<circle cx="410.2" cy="665.2" r="6.94"/>
<circle cx="411.0" cy="664.0" r="6.94"/>
<circle cx="411.8" cy="662.9" r="6.94"/>
<circle cx="413.7" cy="660.2" r="6.94"/>
<circle cx="414.2" cy="659.5" r="6.94"/>
<circle cx="414.5" cy="659.1" r="6.94"/>
<circle cx="414.8" cy="658.7" r="6.94"/>
<circle cx="415.2" cy="658.2" r="6.94"/>
<circle cx="415.6" cy="657.7" r="6.94"/>
<circle cx="416.2" cy="656.8" r="6.94"/>
<circle cx="416.4" cy="656.5" r="6.94"/>
<circle cx="416.6" cy="656.1" r="6.94"/>
<circle cx="416.7" cy="655.7" r="6.94"/>
<circle cx="417.3" cy="654.4" r="6.94"/>
<circle cx="417.5" cy="653.9" r="6.94"/>
<circle cx="417.8" cy="653.3" r="6.94"/>
<circle cx="418.1" cy="652.6" r="6.94"/>
<circle cx="418.7" cy="651.1" r="6.94"/>
<circle cx="419.6" cy="649.1" r="6.94"/>
<circle cx="420.0" cy="648.0" r="6.94"/>
<circle cx="420.3" cy="647.4" r="6.94"/>
<circle cx="421.1" cy="645.8" r="6.94"/>
<circle cx="421.6" cy="644.9" r="6.94"/>
<circle cx="421.8" cy="644.4" r="6.94"/>
<circle cx="422.1" cy="644.0" r="6.94"/>
<circle cx="423.2" cy="641.9" r="6.94"/>
<circle cx="424.1" cy="640.2" r="6.94"/>
<circle cx="424.4" cy="639.7" r="6.94"/>
<circle cx="424.8" cy="639.0" r="6.94"/>
<circle cx="425.0" cy="638.6" r="6.94"/>
<circle cx="425.2" cy="638.3" r="6.94"/>
<circle cx="425.4" cy="637.9" r="6.94"/>
<circle cx="425.5" cy="637.7" r="6.94"/>
<circle cx="425.7" cy="637.4" r="6.94"/>
<circle cx="425.8" cy="637.2" r="6.94"/>
<circle cx="426.0" cy="636.8" r="6.94"/>
<circle cx="426.4" cy="636.1" r="6.94"/>
<circle cx="426.6" cy="635.8" r="6.94"/>
<circle cx="427.2" cy="634.6" r="6.94"/>
<circle cx="427.5" cy="634.2" r="6.94"/>
<circle cx="427.9" cy="633.4" r="6.94"/>
<circle cx="429.1" cy="631.3" r="6.94"/>
<circle cx="429.8" cy="629.9" r="6.94"/>
<circle cx="430.1" cy="629.3" r="6.94"/>
<circle cx="430.3" cy="629.0" r="6.94"/>
<circle cx="430.6" cy="628.5" r="6.94"/>
<circle cx="430.8" cy="628.1" r="6.94"/>
<circle cx="431.3" cy="627.3" r="6.94"/>
<circle cx="431.6" cy="626.9" r="6.94"/>
<circle cx="431.9" cy="626.5" r="6.94"/>
<circle cx="432.5" cy="625.7" r="6.94"/>
<circle cx="432.7" cy="625.3" r="6.94"/>
<circle cx="433.1" cy="624.8" r="6.94"/>
<circle cx="433.8" cy="623.8" r="6.94"/>
<circle cx="434.7" cy="622.5" r="6.94"/>
<circle cx="435.4" cy="621.5" r="6.94"/>
<circle cx="436.3" cy="620.3" r="6.94"/>
<circle cx="437.1" cy="619.2" r="6.94"/>
<circle cx="438.6" cy="617.0" r="6.94"/>
<circle cx="439.0" cy="616.4" r="6.94"/>
<circle cx="439.7" cy="615.5" r="6.94"/>
<circle cx="440.4" cy="614.5" r="6.94"/>
<circle cx="440.7" cy="614.0" r="6.94"/>
<circle cx="441.1" cy="613.6" r="6.94"/>
<circle cx="442.2" cy="612.5" r="6.94"/>
<circle cx="442.9" cy="611.9" r="6.94"/>
<circle cx="443.4" cy="611.5" r="6.94"/>
<circle cx="444.7" cy="610.3" r="6.94"/>
<circle cx="446.1" cy="609.1" r="6.94"/>
<circle cx="447.2" cy="608.1" r="6.94"/>
<circle cx="447.8" cy="607.6" r="6.94"/>
<circle cx="448.7" cy="606.8" r="6.94"/>
<circle cx="449.7" cy="606.0" r="6.94"/>
<circle cx="450.2" cy="605.6" r="6.94"/>
<circle cx="450.8" cy="604.6" r="6.94"/>
<circle cx="451.0" cy="604.3" r="6.94"/>
<circle cx="451.2" cy="603.8" r="6.94"/>
<circle cx="451.5" cy="603.3" r="6.94"/>
<circle cx="452.7" cy="601.0" r="6.94"/>
<circle cx="454.0" cy="598.3" r="6.94"/>
<circle cx="454.2" cy="597.8" r="6.94"/>
<circle cx="454.5" cy="597.4" r="6.94"/>
<circle cx="454.7" cy="597.0" r="6.94"/>
<circle cx="454.9" cy="596.6" r="6.94"/>
<circle cx="455.3" cy="595.8" r="6.94"/>
<circle cx="455.4" cy="595.5" r="6.94"/>
<circle cx="455.6" cy="594.9" r="6.94"/>
<circle cx="455.9" cy="594.3" r="6.94"/>
<circle cx="456.3" cy="593.5" r="6.94"/>
<circle cx="456.7" cy="592.5" r="6.94"/>
<circle cx="457.3" cy="591.2" r="6.94"/>
<circle cx="457.9" cy="589.8" r="6.94"/>
<circle cx="458.3" cy="588.8" r="6.94"/>
<circle cx="458.6" cy="588.1" r="6.94"/>
<circle cx="459.1" cy="587.2" r="6.94"/>
<circle cx="459.2" cy="586.8" r="6.94"/>
<circle cx="459.4" cy="586.5" r="6.94"/>
<circle cx="459.7" cy="585.8" r="6.94"/>
<circle cx="459.8" cy="585.5" r="6.94"/>
<circle cx="460.0" cy="585.2" r="6.94"/>
<circle cx="460.2" cy="585.0" r="6.94"/>
<circle cx="460.6" cy="584.6" r="6.94"/>
<circle cx="461.0" cy="584.3" r="6.94"/>
<circle cx="462.4" cy="582.9" r="6.94"/>
<circle cx="464.5" cy="580.7" r="6.94"/>
<circle cx="466.9" cy="578.3" r="6.94"/>
<circle cx="467.3" cy="578.0" r="6.94"/>
<circle cx="467.7" cy="577.6" r="6.94"/>
<circle cx="468.0" cy="577.3" r="6.94"/>
<circle cx="468.3" cy="576.8" r="6.94"/>
<circle cx="468.7" cy="575.9" r="6.94"/>
<circle cx="469.0" cy="575.3" r="6.94"/>
<circle cx="469.2" cy="574.7" r="6.94"/>
<circle cx="469.6" cy="573.9" r="6.94"/>
<circle cx="470.1" cy="572.6" r="6.94"/>
<circle cx="471.2" cy="570.0" r="6.94"/>
<circle cx="472.0" cy="568.1" r="6.94"/>
<circle cx="472.6" cy="566.8" r="6.94"/>
<circle cx="472.9" cy="566.0" r="6.94"/>
<circle cx="473.1" cy="565.6" r="6.94"/>
<circle cx="473.5" cy="564.7" r="6.94"/>
<circle cx="473.7" cy="564.3" r="6.94"/>
<circle cx="474.0" cy="563.8" r="6.94"/>
<circle cx="474.3" cy="563.3" r="6.94"/>
<circle cx="474.7" cy="562.6" r="6.94"/>
<circle cx="474.9" cy="562.1" r="6.94"/>
<circle cx="475.2" cy="561.6" r="6.94"/>
<circle cx="475.6" cy="561.1" r="6.94"/>
<circle cx="475.9" cy="560.5" r="6.94"/>
<circle cx="477.1" cy="558.4" r="6.94"/>
<circle cx="478.2" cy="556.6" r="6.94"/>
<circle cx="478.8" cy="555.5" r="6.94"/>
<circle cx="479.3" cy="554.7" r="6.94"/>
<circle cx="480.4" cy="552.8" r="6.94"/>
<circle cx="480.7" cy="552.3" r="6.94"/>
<circle cx="480.9" cy="551.9" r="6.94"/>
<circle cx="481.2" cy="551.3" r="6.94"/>
<circle cx="481.5" cy="550.9" r="6.94"/>
<circle cx="482.2" cy="549.7" r="6.94"/>
<circle cx="482.4" cy="549.4" r="6.94"/>
<circle cx="482.6" cy="549.0" r="6.94"/>
<circle cx="483.0" cy="548.3" r="6.94"/>
<circle cx="483.5" cy="547.5" r="6.94"/>
<circle cx="484.3" cy="546.2" r="6.94"/>
<circle cx="484.6" cy="545.6" r="6.94"/>
<circle cx="485.1" cy="544.7" r="6.94"/>
<circle cx="485.8" cy="543.6" r="6.94"/>
<circle cx="486.5" cy="542.4" r="6.94"/>
<circle cx="487.9" cy="540.0" r="6.94"/>
<circle cx="488.3" cy="539.2" r="6.94"/>
<circle cx="489.0" cy="538.1" r="6.94"/>
<circle cx="489.2" cy="537.7" r="6.94"/>
<circle cx="489.7" cy="536.9" r="6.94"/>
<circle cx="489.9" cy="536.6" r="6.94"/>
<circle cx="490.2" cy="536.2" r="6.94"/>
<circle cx="490.9" cy="535.8" r="6.94"/>
<circle cx="491.9" cy="535.1" r="6.94"/>
<circle cx="492.4" cy="534.8" r="6.94"/>
<circle cx="493.1" cy="534.3" r="6.94"/>
<circle cx="494.5" cy="533.4" r="6.94"/>
<circle cx="495.8" cy="532.6" r="6.94"/>
<circle cx="496.9" cy="531.8" r="6.94"/>
<circle cx="497.6" cy="531.3" r="6.94"/>
<circle cx="498.1" cy="531.0" r="6.94"/>
<circle cx="498.6" cy="530.6" r="6.94"/>
<circle cx="499.2" cy="530.2" r="6.94"/>
<circle cx="499.8" cy="529.9" r="6.94"/>
<circle cx="500.2" cy="529.6" r="6.94"/>
<circle cx="500.5" cy="529.4" r="6.94"/>
<circle cx="500.7" cy="529.0" r="6.94"/>
<circle cx="501.0" cy="528.4" r="6.94"/>
<circle cx="501.1" cy="528.0" r="6.94"/>
<circle cx="501.4" cy="527.4" r="6.94"/>
<circle cx="501.6" cy="526.9" r="6.94"/>
<circle cx="502.2" cy="525.5" r="6.94"/>
<circle cx="503.1" cy="523.5" r="6.94"/>
<circle cx="503.5" cy="522.5" r="6.94"/>
<circle cx="503.9" cy="521.8" r="6.94"/>
<circle cx="504.2" cy="521.1" r="6.94"/>
<circle cx="504.5" cy="520.4" r="6.94"/>
<circle cx="504.8" cy="519.7" r="6.94"/>
<circle cx="504.9" cy="519.4" r="6.94"/>
<circle cx="505.1" cy="519.0" r="6.94"/>
<circle cx="505.5" cy="518.4" r="6.94"/>
<circle cx="505.8" cy="518.0" r="6.94"/>
<circle cx="506.1" cy="517.6" r="6.94"/>
<circle cx="506.4" cy="517.2" r="6.94"/>
<circle cx="507.7" cy="515.5" r="6.94"/>
<circle cx="508.5" cy="514.4" r="6.94"/>
<circle cx="509.7" cy="512.8" r="6.94"/>
<circle cx="510.4" cy="512.0" r="6.94"/>
<circle cx="510.8" cy="511.3" r="6.94"/>
<circle cx="511.5" cy="510.5" r="6.94"/>
<circle cx="512.6" cy="508.8" r="6.94"/>
<circle cx="512.8" cy="508.3" r="6.94"/>
<circle cx="513.0" cy="507.9" r="6.94"/>
<circle cx="513.5" cy="507.1" r="6.94"/>
<circle cx="513.8" cy="506.5" r="6.94"/>
<circle cx="514.1" cy="505.8" r="6.94"/>
<circle cx="515.6" cy="502.8" r="6.94"/>
<circle cx="516.1" cy="501.8" r="6.94"/>
<circle cx="516.7" cy="500.7" r="6.94"/>
<circle cx="516.9" cy="500.1" r="6.94"/>
<circle cx="517.4" cy="499.2" r="6.94"/>
<circle cx="517.7" cy="498.7" r="6.94"/>
<circle cx="517.9" cy="498.5" r="6.94"/>
<circle cx="518.2" cy="498.2" r="6.94"/>
<circle cx="518.6" cy="497.7" r="6.94"/>
<circle cx="519.1" cy="497.2" r="6.94"/>
<circle cx="520.2" cy="496.0" r="6.94"/>
<circle cx="520.8" cy="495.3" r="6.94"/>
<circle cx="522.5" cy="493.6" r="6.94"/>
<circle cx="523.5" cy="492.5" r="6.94"/>
<circle cx="524.3" cy="491.6" r="6.94"/>
<circle cx="524.7" cy="491.2" r="6.94"/>
<circle cx="525.1" cy="490.8" r="6.94"/>
<circle cx="525.6" cy="490.3" r="6.94"/>
<circle cx="526.4" cy="489.3" r="6.94"/>
<circle cx="526.7" cy="489.0" r="6.94"/>
<circle cx="527.1" cy="488.6" r="6.94"/>
<circle cx="527.8" cy="487.8" r="6.94"/>
<circle cx="529.3" cy="486.0" r="6.94"/>
<circle cx="530.3" cy="485.0" r="6.94"/>
<circle cx="531.3" cy="483.8" r="6.94"/>
<circle cx="532.8" cy="482.0" r="6.94"/>
<circle cx="534.0" cy="480.7" r="6.94"/>
<circle cx="534.3" cy="480.3" r="6.94"/>
<circle cx="534.6" cy="480.1" r="6.94"/>
<circle cx="535.2" cy="479.1" r="6.94"/>
<circle cx="535.4" cy="478.7" r="6.94"/>
<circle cx="536.1" cy="477.7" r="6.94"/>
<circle cx="536.7" cy="476.8" r="6.94"/>
<circle cx="538.0" cy="474.8" r="6.94"/>
<circle cx="538.7" cy="473.7" r="6.94"/>
<circle cx="539.5" cy="472.5" r="6.94"/>
<circle cx="539.8" cy="472.0" r="6.94"/>
<circle cx="540.1" cy="471.6" r="6.94"/>
<circle cx="540.6" cy="470.8" r="6.94"/>
<circle cx="541.0" cy="470.2" r="6.94"/>
<circle cx="541.2" cy="469.9" r="6.94"/>
<circle cx="541.4" cy="469.6" r="6.94"/>
<circle cx="541.7" cy="469.3" r="6.94"/>
<circle cx="542.0" cy="468.9" r="6.94"/>
<circle cx="542.2" cy="468.5" r="6.94"/>
<circle cx="542.5" cy="468.2" r="6.94"/>
<circle cx="542.7" cy="467.8" r="6.94"/>
<circle cx="543.2" cy="467.2" r="6.94"/>
<circle cx="544.1" cy="466.0" r="6.94"/>
<circle cx="544.5" cy="465.4" r="6.94"/>
<circle cx="545.5" cy="464.0" r="6.94"/>
<circle cx="547.1" cy="461.8" r="6.94"/>
<circle cx="547.6" cy="461.1" r="6.94"/>
<circle cx="548.5" cy="459.9" r="6.94"/>
<circle cx="548.8" cy="459.4" r="6.94"/>
<circle cx="549.3" cy="458.8" r="6.94"/>
<circle cx="549.7" cy="458.2" r="6.94"/>
<circle cx="550.1" cy="457.7" r="6.94"/>
<circle cx="550.4" cy="457.3" r="6.94"/>
<circle cx="550.8" cy="456.8" r="6.94"/>
<circle cx="551.2" cy="456.4" r="6.94"/>
<circle cx="551.7" cy="455.9" r="6.94"/>
<circle cx="552.3" cy="455.3" r="6.94"/>
<circle cx="552.9" cy="454.7" r="6.94"/>
<circle cx="553.9" cy="453.7" r="6.94"/>
<circle cx="554.9" cy="452.7" r="6.94"/>
<circle cx="556.3" cy="451.3" r="6.94"/>
<circle cx="557.0" cy="450.6" r="6.94"/>
<circle cx="557.4" cy="450.2" r="6.94"/>
<circle cx="558.1" cy="449.5" r="6.94"/>
<circle cx="558.7" cy="448.9" r="6.94"/>
<circle cx="559.1" cy="448.4" r="6.94"/>
<circle cx="559.4" cy="448.1" r="6.94"/>
<circle cx="559.9" cy="447.6" r="6.94"/>
<circle cx="560.2" cy="447.3" r="6.94"/>
<circle cx="560.5" cy="447.0" r="6.94"/>
<circle cx="560.9" cy="446.5" r="6.94"/>
<circle cx="561.3" cy="446.1" r="6.94"/>
<circle cx="561.9" cy="445.5" r="6.94"/>
<circle cx="562.6" cy="444.7" r="6.94"/>
<circle cx="563.1" cy="444.1" r="6.94"/>
<circle cx="564.6" cy="442.5" r="6.94"/>
<circle cx="565.7" cy="441.3" r="6.94"/>
<circle cx="567.4" cy="439.4" r="6.94"/>
<circle cx="568.6" cy="438.1" r="6.94"/>
<circle cx="569.2" cy="437.4" r="6.94"/>
<circle cx="569.6" cy="437.0" r="6.94"/>
<circle cx="570.1" cy="436.5" r="6.94"/>
<circle cx="570.5" cy="436.0" r="6.94"/>
<circle cx="571.6" cy="434.8" r="6.94"/>
<circle cx="571.9" cy="434.5" r="6.94"/>
<circle cx="572.8" cy="433.7" r="6.94"/>
<circle cx="575.4" cy="431.4" r="6.94"/>
<circle cx="577.4" cy="429.6" r="6.94"/>
<circle cx="579.9" cy="427.4" r="6.94"/>
<circle cx="580.6" cy="426.7" r="6.94"/>
<circle cx="582.5" cy="425.0" r="6.94"/>
<circle cx="583.0" cy="424.5" r="6.94"/>
<circle cx="584.2" cy="423.2" r="6.94"/>
<circle cx="585.2" cy="421.8" r="6.94"/>
<circle cx="585.8" cy="420.9" r="6.94"/>
<circle cx="587.9" cy="418.1" r="6.94"/>
<circle cx="589.4" cy="416.2" r="6.94"/>
<circle cx="589.8" cy="415.7" r="6.94"/>
<circle cx="590.2" cy="415.2" r="6.94"/>
<circle cx="590.8" cy="414.4" r="6.94"/>
<circle cx="591.3" cy="414.1" r="6.94"/>
<circle cx="592.4" cy="413.2" r="6.94"/>
<circle cx="593.0" cy="412.7" r="6.94"/>
<circle cx="594.4" cy="411.6" r="6.94"/>
<circle cx="595.5" cy="410.7" r="6.94"/>
<circle cx="597.5" cy="409.1" r="6.94"/>
<circle cx="599.7" cy="407.4" r="6.94"/>
<circle cx="600.2" cy="407.0" r="6.94"/>
<circle cx="600.7" cy="406.6" r="6.94"/>
<circle cx="601.3" cy="406.1" r="6.94"/>
<circle cx="601.7" cy="405.8" r="6.94"/>
<circle cx="602.0" cy="405.5" r="6.94"/>
<circle cx="602.4" cy="405.2" r="6.94"/>
<circle cx="602.7" cy="404.8" r="6.94"/>
<circle cx="603.7" cy="403.6" r="6.94"/>
<circle cx="604.4" cy="402.7" r="6.94"/>
<circle cx="606.5" cy="400.3" r="6.94"/>
<circle cx="607.8" cy="398.7" r="6.94"/>
<circle cx="609.2" cy="397.0" r="6.94"/>
<circle cx="609.7" cy="396.4" r="6.94"/>
<circle cx="610.4" cy="395.6" r="6.94"/>
<circle cx="611.1" cy="394.8" r="6.94"/>
<circle cx="611.5" cy="394.1" r="6.94"/>
<circle cx="612.5" cy="392.8" r="6.94"/>
<circle cx="613.3" cy="391.7" r="6.94"/>
<circle cx="614.6" cy="389.7" r="6.94"/>
<circle cx="617.4" cy="385.8" r="6.94"/>
<circle cx="618.0" cy="384.9" r="6.94"/>
<circle cx="620.1" cy="382.0" r="6.94"/>
<circle cx="621.0" cy="380.8" r="6.94"/>
<circle cx="622.2" cy="379.1" r="6.94"/>
<circle cx="624.8" cy="375.7" r="6.94"/>
<circle cx="625.4" cy="374.8" r="6.94"/>
<circle cx="627.4" cy="372.0" r="6.94"/>
<circle cx="628.3" cy="370.7" r="6.94"/>
<circle cx="629.3" cy="369.1" r="6.94"/>
<circle cx="631.5" cy="365.9" r="6.94"/>
<circle cx="632.2" cy="364.9" r="6.94"/>
<circle cx="632.6" cy="364.2" r="6.94"/>
<circle cx="633.3" cy="363.3" r="6.94"/>
<circle cx="633.5" cy="362.8" r="6.94"/>
<circle cx="634.1" cy="361.5" r="6.94"/>
<circle cx="634.5" cy="360.6" r="6.94"/>
<circle cx="635.6" cy="357.9" r="6.94"/>
<circle cx="636.9" cy="354.9" r="6.94"/>
<circle cx="637.2" cy="354.0" r="6.94"/>
<circle cx="637.6" cy="353.0" r="6.94"/>
<circle cx="637.9" cy="352.3" r="6.94"/>
<circle cx="638.1" cy="351.6" r="6.94"/>
<circle cx="638.5" cy="350.7" r="6.94"/>
<circle cx="639.0" cy="349.3" r="6.94"/>
<circle cx="640.0" cy="346.3" r="6.94"/>
<circle cx="640.5" cy="345.0" r="6.94"/>
<circle cx="640.9" cy="343.9" r="6.94"/>
<circle cx="641.4" cy="342.4" r="6.94"/>
<circle cx="641.6" cy="341.9" r="6.94"/>
<circle cx="641.8" cy="341.3" r="6.94"/>
<circle cx="642.2" cy="340.4" r="6.94"/>
<circle cx="642.4" cy="339.8" r="6.94"/>
<circle cx="642.7" cy="339.0" r="6.94"/>
<circle cx="643.5" cy="336.9" r="6.94"/>
<circle cx="644.2" cy="335.1" r="6.94"/>
<circle cx="644.6" cy="333.8" r="6.94"/>
<circle cx="645.0" cy="332.9" r="6.94"/>
<circle cx="645.8" cy="332.0" r="6.94"/>
<circle cx="647.3" cy="331.1" r="6.94"/>
<circle cx="649.6" cy="329.8" r="6.94"/>
<circle cx="652.4" cy="328.2" r="6.94"/>
<circle cx="653.8" cy="327.5" r="6.94"/>
<circle cx="655.0" cy="326.9" r="6.94"/>
<circle cx="661.1" cy="324.4" r="6.94"/>
<circle cx="662.3" cy="323.8" r="6.94"/>
<circle cx="663.4" cy="323.2" r="6.94"/>
<circle cx="665.7" cy="322.1" r="6.94"/>
<circle cx="667.7" cy="321.1" r="6.94"/>
<circle cx="668.9" cy="320.0" r="6.94"/>
<circle cx="669.5" cy="318.4" r="6.94"/>
<circle cx="670.2" cy="316.6" r="6.94"/>
<circle cx="671.1" cy="314.2" r="6.94"/>
<circle cx="671.5" cy="313.2" r="6.94"/>
<circle cx="672.0" cy="311.9" r="6.94"/>
<circle cx="672.4" cy="310.9" r="6.94"/>
<circle cx="672.8" cy="310.1" r="6.94"/>
<circle cx="673.3" cy="309.1" r="6.94"/>
<circle cx="673.8" cy="308.0" r="6.94"/>
<circle cx="675.8" cy="304.1" r="6.94"/>
<circle cx="677.3" cy="301.1" r="6.94"/>
<circle cx="677.8" cy="300.2" r="6.94"/>
<circle cx="678.6" cy="298.5" r="6.94"/>
<circle cx="678.9" cy="298.1" r="6.94"/>
<circle cx="679.2" cy="297.3" r="6.94"/>
<circle cx="679.6" cy="296.7" r="6.94"/>
<circle cx="680.0" cy="296.2" r="6.94"/>
<circle cx="680.3" cy="295.7" r="6.94"/>
<circle cx="681.4" cy="294.3" r="6.94"/>
<circle cx="682.4" cy="292.8" r="6.94"/>
<circle cx="683.8" cy="290.9" r="6.94"/>
<circle cx="685.2" cy="288.9" r="6.94"/>
<circle cx="685.7" cy="288.5" r="6.94"/>
<circle cx="686.3" cy="288.0" r="6.94"/>
<circle cx="687.2" cy="287.1" r="6.94"/>
<circle cx="688.5" cy="286.0" r="6.94"/>
<circle cx="691.2" cy="283.6" r="6.94"/>
<circle cx="693.0" cy="282.0" r="6.94"/>
<circle cx="693.6" cy="281.4" r="6.94"/>
<circle cx="694.2" cy="280.9" r="6.94"/>
<circle cx="694.8" cy="280.4" r="6.94"/>
<circle cx="695.0" cy="279.9" r="6.94"/>
<circle cx="695.9" cy="278.1" r="6.94"/>
<circle cx="697.1" cy="275.6" r="6.94"/>
<circle cx="699.0" cy="271.9" r="6.94"/>
<circle cx="699.4" cy="270.9" r="6.94"/>
<circle cx="700.4" cy="269.0" r="6.94"/>
<circle cx="701.4" cy="267.5" r="6.94"/>
<circle cx="702.6" cy="265.9" r="6.94"/>
<circle cx="705.1" cy="262.4" r="6.94"/>
<circle cx="705.9" cy="261.3" r="6.94"/>
<circle cx="706.5" cy="260.5" r="6.94"/>
<circle cx="707.3" cy="260.2" r="6.94"/>
<circle cx="708.4" cy="259.7" r="6.94"/>
<circle cx="710.3" cy="258.9" r="6.94"/>
<circle cx="712.8" cy="257.8" r="6.94"/>
<circle cx="714.6" cy="256.9" r="6.94"/>
<circle cx="715.3" cy="255.3" r="6.94"/>
<circle cx="717.3" cy="251.0" r="6.94"/>
<circle cx="718.5" cy="248.2" r="6.94"/>
<circle cx="719.0" cy="247.3" r="6.94"/>
<circle cx="719.6" cy="246.1" r="6.94"/>
<circle cx="720.4" cy="245.2" r="6.94"/>
<circle cx="723.3" cy="241.7" r="6.94"/>
<circle cx="724.5" cy="240.2" r="6.94"/>
<circle cx="725.2" cy="239.3" r="6.94"/>
<circle cx="726.3" cy="237.9" r="6.94"/>
<circle cx="730.3" cy="232.1" r="6.94"/>
<circle cx="730.2" cy="232.5" r="6.94"/>
<circle cx="731.5" cy="229.5" r="6.94"/>
<circle cx="733.0" cy="226.0" r="6.94"/>
<circle cx="734.4" cy="222.5" r="6.94"/>
<circle cx="735.8" cy="217.5" r="6.94"/>
<circle cx="737.0" cy="212.3" r="6.94"/>
<circle cx="737.9" cy="207.6" r="6.94"/>
<circle cx="739.3" cy="202.9" r="6.94"/>
<circle cx="741.2" cy="194.0" r="6.94"/>
<circle cx="745.6" cy="145.4" r="6.94"/>
<circle cx="642.0" cy="341.2" r="6.94"/>
<circle cx="641.9" cy="343.4" r="6.94"/>
<circle cx="641.8" cy="337.6" r="6.94"/>
<circle cx="641.9" cy="339.2" r="6.94"/>
<circle cx="642.6" cy="339.9" r="6.94"/>
<circle cx="642.0" cy="345.4" r="6.94"/>
<circle cx="678.9" cy="295.0" r="6.94"/>
<circle cx="678.6" cy="294.3" r="6.94"/>
<circle cx="678.6" cy="297.7" r="6.94"/>
<circle cx="679.2" cy="294.3" r="6.94"/>
<circle cx="678.6" cy="298.1" r="6.94"/>
<circle cx="616.7" cy="380.5" r="6.94"/>
</g>
<g clip-path="url(#ax)" fill="none" stroke-width="4.17" stroke-linecap="square">
<line x1="57.5" y1="888.9354838709677" x2="852.5" y2="99.06451612903226" stroke="#00f" stroke-opacity="0.33"/>
<line x1="170.5" y1="844.4" x2="744.4" y2="285.0" stroke="#f00" stroke-opacity="0.33"/>
</g>
<rect x="67.5" y="110.5" width="775.0" height="770.0" fill="none" stroke="#000" stroke-width="1.11" stroke-linejoin="miter"/>
<g stroke="#000" stroke-width="1.11">
<line x1="170.5" y1="880.5" x2="170.5" y2="885.66"/>
<line x1="311.5" y1="880.5" x2="311.5" y2="885.66"/>
<line x1="452.5" y1="880.5" x2="452.5" y2="885.66"/>
<line x1="593.5" y1="880.5" x2="593.5" y2="885.66"/>
<line x1="734.5" y1="880.5" x2="734.5" y2="885.66"/>
<line x1="67.5" y1="777.5" x2="62.34" y2="777.5"/>
<line x1="67.5" y1="637.5" x2="62.34" y2="637.5"/>
<line x1="67.5" y1="497.5" x2="62.34" y2="497.5"/>
<line x1="67.5" y1="357.5" x2="62.34" y2="357.5"/>
<line x1="67.5" y1="217.5" x2="62.34" y2="217.5"/>
</g>
<g font-size="13.89px">
<text x="171.45" y="901.1" text-anchor="middle">0</text>
<text x="311.25" y="901.1" text-anchor="middle">200</text>
<text x="440.0" y="901.1" text-anchor="start">4<tspan dx="-1">00</tspan></text>
<text x="593.25" y="901.1" text-anchor="middle">600</text>
<text x="734.25" y="901.1" text-anchor="middle">800</text>
<text x="57.6" y="782.8" text-anchor="end">0</text>
<text x="57.6" y="642.8" text-anchor="end">200</text>
<text x="31.1" y="502.8" text-anchor="start">4<tspan dx="-1">00</tspan></text>
<text x="57.6" y="362.8" text-anchor="end">600</text>
<text x="57.6" y="222.8" text-anchor="end">800</text>
</g>
<text x="454" y="920.9" font-size="16.67px" text-anchor="middle">Simulated</text>
<text transform="translate(22.3,496.4) rotate(-90)" font-size="16.67px" text-anchor="middle">Observed</text>
<g font-size="19.44px" text-anchor="start">
<text x="138.4" y="25">Q-Q<tspan dx="-1.5"> plot at vi.landsvirkjun.5932 for </tspan><tspan letter-spacing="0.12">downward</tspan>_shortwave_flux</text>
<text x="294.9" y="48"><tspan dx="-0.9">from</tspan><tspan dx="0.5"> rav2-13-14</tspan><tspan dx="0.4"> during spring</tspan></text>
</g>
</svg></body></html>
